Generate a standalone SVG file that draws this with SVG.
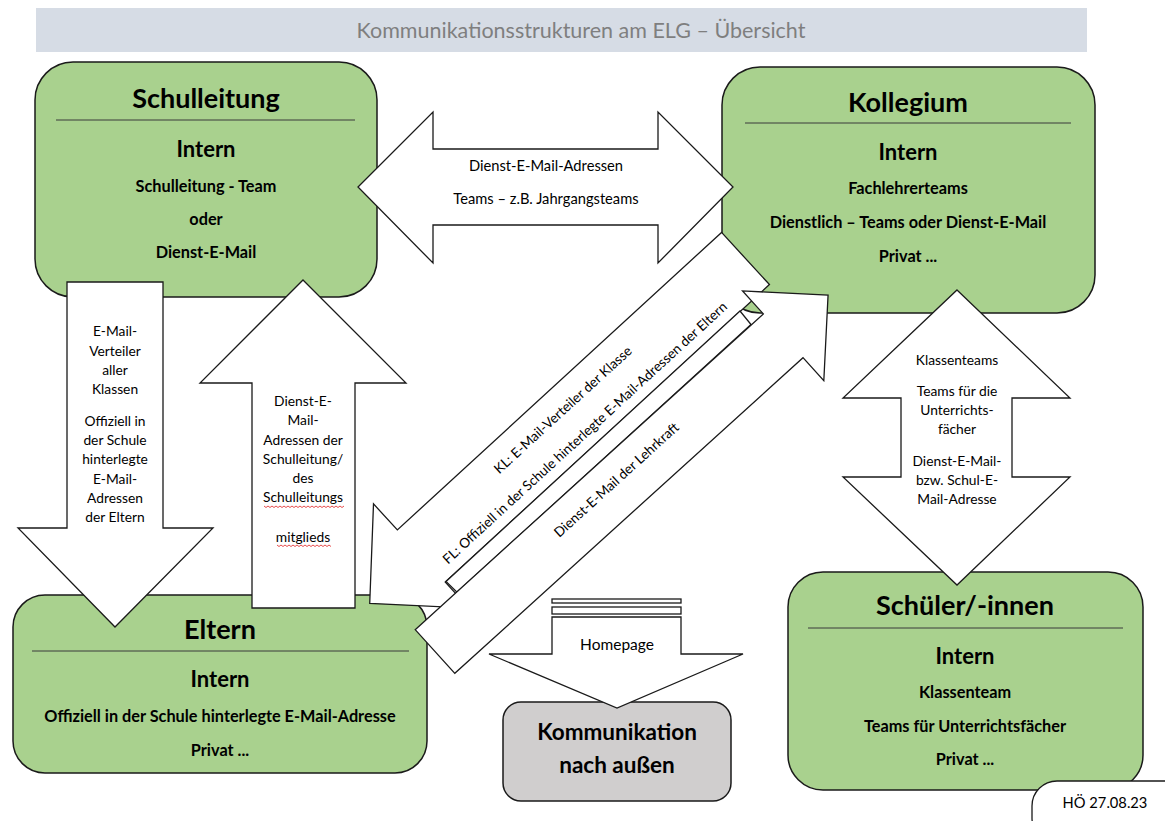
<svg xmlns="http://www.w3.org/2000/svg" width="1165" height="821" viewBox="0 0 1165 821">
<style>
  .box{fill:#a9d18e;stroke:#1a1a1a;stroke-width:1.5}
  .grey{fill:#d0cece;stroke:#1a1a1a;stroke-width:1.5}
  .arr{fill:#ffffff;stroke:#1a1a1a;stroke-width:1.3;stroke-linejoin:miter}
  .sep{stroke:#3a3a3a;stroke-width:1}
  text{font-family:Lato,"Open Sans","Liberation Sans",sans-serif;fill:#000;text-anchor:middle}
  .h1{font-size:27px;font-weight:bold}
  .h2{font-size:22px;font-weight:bold}
  .b{font-size:16.3px;font-weight:bold}
  .k{font-size:22.5px;font-weight:bold}
  .t{font-size:14.7px}
  .s{font-size:13.8px}
  .d{font-size:13.6px}
  .wavy{fill:none;stroke:#e02020;stroke-width:0.8}
</style>

<g id="title">
  <rect x="36" y="8" width="1051" height="44" fill="#d6dce5"/>
  <text x="581" y="38" style="font-size:21.5px;fill:#7f7f7f">Kommunikationsstrukturen am ELG – Übersicht</text>
</g>

<g id="schulleitung">
  <rect class="box" x="35" y="62" width="342" height="235" rx="38"/>
  <text class="h1" x="206" y="108">Schulleitung</text>
  <line class="sep" x1="56" y1="120" x2="355" y2="120"/>
  <text class="h2" x="206" y="157">Intern</text>
  <text class="b" x="206" y="192">Schulleitung - Team</text>
  <text class="b" x="206" y="225">oder</text>
  <text class="b" x="206" y="258">Dienst-E-Mail</text>
</g>

<g id="kollegium">
  <rect class="box" x="722" y="67" width="373" height="246" rx="38"/>
  <text class="h1" x="908" y="112">Kollegium</text>
  <line class="sep" x1="745" y1="123" x2="1071" y2="123"/>
  <text class="h2" x="908" y="160">Intern</text>
  <text class="b" x="908" y="194">Fachlehrerteams</text>
  <text class="b" x="908" y="228">Dienstlich – Teams oder Dienst-E-Mail</text>
  <text class="b" x="908" y="262">Privat ...</text>
</g>

<g id="eltern">
  <rect class="box" x="13" y="595" width="414" height="178" rx="32"/>
  <text class="h1" x="220" y="639">Eltern</text>
  <line class="sep" x1="32" y1="651" x2="409" y2="651"/>
  <text class="h2" x="220" y="687">Intern</text>
  <text class="b" x="220" y="722">Offiziell in der Schule hinterlegte E-Mail-Adresse</text>
  <text class="b" x="220" y="756">Privat ...</text>
</g>

<g id="schueler">
  <rect class="box" x="788" y="572" width="355" height="218" rx="35"/>
  <text class="h1" x="965" y="615">Schüler/-innen</text>
  <line class="sep" x1="808" y1="628" x2="1123" y2="628"/>
  <text class="h2" x="965" y="664">Intern</text>
  <text class="b" x="965" y="698">Klassenteam</text>
  <text class="b" x="965" y="732">Teams für Unterrichtsfächer</text>
  <text class="b" x="965" y="765">Privat ...</text>
</g>

<g id="aussen">
  <rect class="grey" x="503" y="702" width="228" height="99" rx="18"/>
  <text class="k" x="617" y="740">Kommunikation</text>
  <text class="k" x="617" y="773">nach außen</text>
</g>

<g id="connectors">
  <g id="arrow-sl-kollegium">
    <polygon class="arr" points="358,187 433,112 433,149 658,149 658,112 733,187 658,263 658,225 433,225 433,263"/>
    <text class="t" x="546" y="171">Dienst-E-Mail-Adressen</text>
    <text class="t" x="546" y="204">Teams – z.B. Jahrgangsteams</text>
  </g>
  <g id="arrow-sl-eltern">
    <polygon class="arr" points="67,282 163,282 163,528 213,528 115,627 18,528 67,528"/>
    <text class="s" x="115" y="336">E-Mail-</text>
    <text class="s" x="115" y="355.5">Verteiler</text>
    <text class="s" x="115" y="374.5">aller</text>
    <text class="s" x="115" y="393.5">Klassen</text>
    <text class="s" x="115" y="425.5">Offiziell in</text>
    <text class="s" x="115" y="444.5">der Schule</text>
    <text class="s" x="115" y="464">hinterlegte</text>
    <text class="s" x="115" y="483.5">E-Mail-</text>
    <text class="s" x="115" y="502.5">Adressen</text>
    <text class="s" x="115" y="521.5">der Eltern</text>
  </g>
  <g id="arrow-eltern-sl">
    <polygon class="arr" points="303,280 406,383 355,383 355,608 252,608 252,383 200,383"/>
    <text class="s" x="303" y="406">Dienst-E-</text>
    <text class="s" x="303" y="424.5">Mail-</text>
    <text class="s" x="303" y="444.5">Adressen der</text>
    <text class="s" x="303" y="464">Schulleitung/</text>
    <text class="s" x="303" y="483">des</text>
    <text class="s" x="303" y="502">Schulleitungs</text>
    <text class="s" x="303" y="542">mitglieds</text>
    <path class="wavy" d="M264,506 l2,1.5 2,-1.5 2,1.5 2,-1.5 2,1.5 2,-1.5 2,1.5 2,-1.5 2,1.5 2,-1.5 2,1.5 2,-1.5 2,1.5 2,-1.5 2,1.5 2,-1.5 2,1.5 2,-1.5 2,1.5 2,-1.5 2,1.5 2,-1.5 2,1.5 2,-1.5 2,1.5 2,-1.5 2,1.5 2,-1.5 2,1.5 2,-1.5 2,1.5 2,-1.5 2,1.5 2,-1.5 2,1.5 2,-1.5 2,1.5 2,-1.5 2,1.5 2,-1.5"/>
    <path class="wavy" d="M277,545 l2,1.5 2,-1.5 2,1.5 2,-1.5 2,1.5 2,-1.5 2,1.5 2,-1.5 2,1.5 2,-1.5 2,1.5 2,-1.5 2,1.5 2,-1.5 2,1.5 2,-1.5 2,1.5 2,-1.5 2,1.5 2,-1.5 2,1.5 2,-1.5 2,1.5 2,-1.5 2,1.5 2,-1.5 2,1.5"/>
  </g>
  <g id="arrow-kollegium-eltern">
    <polygon class="arr" transform="translate(745.5,258.5) rotate(137.46)" points="0,-35.4 440,-35.4 440,-70.7 510,0 440,70.7 440,35.4 0,35.4"/>
  </g>
  <g id="strip">
    <polygon class="arr" points="446,581.5 740,311 751,324.5 457,592.2"/>
  </g>
  <g id="arrow-eltern-kollegium">
    <polygon class="arr" transform="translate(435,651.5) rotate(-42.2)" points="0,-29.5 470,-29.5 470,-60.5 530.6,0 470,60.5 470,29.5 0,29.5"/>
  </g>
  <text class="d" transform="translate(563,410) rotate(-42.5)" y="4.5">KL: E-Mail-Verteiler  der Klasse</text>
  <text class="d" transform="translate(585,433) rotate(-42.5)" y="4.5">FL: Offiziell in der Schule hinterlegte E-Mail-Adressen  der Eltern</text>
  <text class="d" transform="translate(616.5,480) rotate(-42.2)" y="4.5">Dienst-E-Mail  der Lehrkraft</text>
  <g id="arrow-kollegium-schueler">
    <polygon class="arr" points="957,290 1070,398 1012,398 1012,477 1070,477 957,585 843,477 901,477 901,398 843,398"/>
    <text class="s" x="957" y="364.5">Klassenteams</text>
    <text class="s" x="957" y="395.5">Teams für die</text>
    <text class="s" x="957" y="414.5">Unterrichts-</text>
    <text class="s" x="957" y="433.5">fächer</text>
    <text class="s" x="957" y="466">Dienst-E-Mail-</text>
    <text class="s" x="957" y="484.5">bzw. Schul-E-</text>
    <text class="s" x="957" y="503.5">Mail-Adresse</text>
  </g>
  <g id="arrow-homepage">
    <rect class="arr" x="552" y="599" width="129" height="4"/>
    <rect class="arr" x="552" y="607" width="129" height="7"/>
    <polygon class="arr" points="552,617 681,617 681,654 743,654 617,708 489,654 552,654"/>
    <text x="617" y="650" style="font-size:15.5px">Homepage</text>
  </g>
</g>

<g id="stamp">
  <rect x="1032" y="781" width="170" height="62" rx="25" fill="#fff" stroke="#1a1a1a" stroke-width="1.3"/>
  <text class="t" x="1105" y="808">HÖ 27.08.23</text>
</g>
</svg>
